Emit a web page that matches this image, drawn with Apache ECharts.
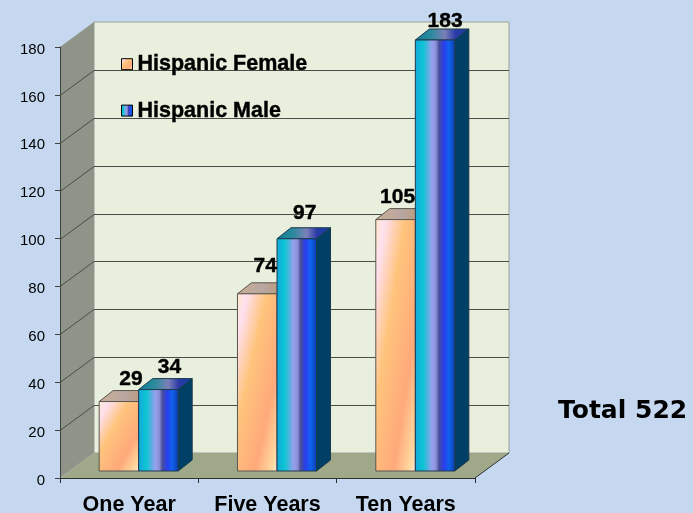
<!DOCTYPE html>
<html>
<head>
<meta charset="utf-8">
<style>
  html, body { margin: 0; padding: 0; background: #c6d8f0; }
  #chart { width: 693px; height: 513px; }
</style>
<script src="https://cdn.jsdelivr.net/npm/echarts@6/dist/echarts.min.js"></script>
</head>
<body>
<div id="chart"></div>
<script>
var categories = ['One Year', 'Five Years', 'Ten Years'];
var femaleValues = [29, 74, 105];
var maleValues = [34, 97, 183];
var yTicks = [0, 20, 40, 60, 80, 100, 120, 140, 160, 180];
var totalLabel = 'Total 522';

var yMax = 180;
var wallDx = 34, wallDy = -25;     // depth of the box
var barDx = 14, barDy = -11;       // depth of one bar
var floorDx = 9.5, floorDy = -7;   // where the bars stand on the floor

// the value labels are not placed evenly in the original
var femaleNudge = [[1, 1], [-3, -5], [-9, 1]];
var maleNudge = [[0, 1], [-3, -3], [-1, 4]];

var femaleStops = [
  { offset: 0, color: '#ffe9c8' },
  { offset: 0.12, color: '#ffe0f0' },
  { offset: 0.37, color: '#ffc47c' },
  { offset: 0.72, color: '#ffa97a' },
  { offset: 0.93, color: '#ffd9a0' },
  { offset: 1, color: '#ffe8e0' }
];
var maleStops = [
  { offset: 0, color: '#12a8dc' },
  { offset: 0.2, color: '#0cc6d2' },
  { offset: 0.42, color: '#98a0ee' },
  { offset: 0.52, color: '#8c90d8' },
  { offset: 0.6, color: '#484e98' },
  { offset: 0.72, color: '#2a3ef0' },
  { offset: 0.85, color: '#0f62ee' },
  { offset: 1, color: '#0a3fb0' }
];
var maleTopStops = [
  { offset: 0, color: '#0e7f9a' },
  { offset: 0.3, color: '#2c8a9c' },
  { offset: 0.55, color: '#7c80b8' },
  { offset: 0.75, color: '#2a3aa8' },
  { offset: 1, color: '#10409c' }
];

// skewed diagonal gradient, stays corner to corner on tall bars
function diagonal(x, y, w, h, stops) {
  var k = 2 * w * h / (w * w + h * h);
  return new echarts.graphic.LinearGradient(x, y, x + h * k, y + w * k, stops, true);
}

function renderFrame(params, api) {
  var cs = params.coordSys;
  var left = cs.x, right = cs.x + cs.width;
  var y0 = api.coord([0, 0])[1];
  var yTop = api.coord([0, yMax])[1];
  var kids = [];
  // back wall
  kids.push({
    type: 'polygon',
    shape: { points: [[left + wallDx, yTop + wallDy], [right + wallDx, yTop + wallDy], [right + wallDx, y0 + wallDy], [left + wallDx, y0 + wallDy]] },
    style: { fill: '#e9efdd', stroke: '#9aa09c', lineWidth: 1 }
  });
  // left wall
  kids.push({
    type: 'polygon',
    shape: { points: [[left, y0], [left + wallDx, y0 + wallDy], [left + wallDx, yTop + wallDy], [left, yTop]] },
    style: { fill: '#8f9488' }
  });
  // floor
  kids.push({
    type: 'polygon',
    shape: { points: [[left, y0], [left + wallDx, y0 + wallDy], [right + wallDx, y0 + wallDy], [right, y0]] },
    style: { fill: '#a0a88a' }
  });
  kids.push({
    type: 'polyline',
    shape: { points: [[right, y0], [right + wallDx, y0 + wallDy]] },
    style: { stroke: '#303030', lineWidth: 1, fill: null }
  });
  yTicks.forEach(function (t) {
    if (t === 0 || t === yMax) return;
    var y = Math.round(api.coord([0, t])[1]) + 0.5;
    kids.push({
      type: 'polyline',
      shape: { points: [[left, y], [left + wallDx, y + wallDy], [right + wallDx, y + wallDy]] },
      style: { stroke: '#4a4d48', lineWidth: 1, fill: null }
    });
  });
  return { type: 'group', children: kids };
}

function renderBar(isMale) {
  return function (params, api) {
    var catIdx = api.value(0);
    var val = api.value(1);
    var center = api.coord([catIdx, 0])[0];
    var band = api.size([1, 0])[0];
    var w = band / 3.5;
    var x = center + floorDx + (isMale ? 0 : -w);
    var yBase = api.coord([catIdx, 0])[1] + floorDy;
    // the 183 bar runs out of the box, so it stops at the axis maximum
    var yTop = api.coord([catIdx, Math.min(val, yMax)])[1] + floorDy;
    var h = yBase - yTop;
    var line = isMale ? '#1c3a4c' : '#5a5650';
    var kids = [];
    var topFill = isMale
      ? new echarts.graphic.LinearGradient(x, 0, x + w + barDx, 0, maleTopStops, true)
      : new echarts.graphic.LinearGradient(x, 0, x + w + barDx, 0, [
          { offset: 0, color: '#c9ae96' },
          { offset: 0.5, color: '#b8a6a0' },
          { offset: 1, color: '#bf9560' }
        ], true);
    kids.push({
      type: 'polygon',
      shape: { points: [[x, yTop], [x + barDx, yTop + barDy], [x + w + barDx, yTop + barDy], [x + w, yTop]] },
      style: { fill: topFill, stroke: line, lineWidth: 1 }
    });
    kids.push({
      type: 'polygon',
      shape: { points: [[x + w, yTop], [x + w + barDx, yTop + barDy], [x + w + barDx, yBase + barDy], [x + w, yBase]] },
      style: { fill: isMale ? '#003f66' : '#a08a70', stroke: line, lineWidth: 1 }
    });
    kids.push({
      type: 'rect',
      shape: { x: x, y: yTop, width: w, height: h },
      style: {
        fill: isMale
          ? new echarts.graphic.LinearGradient(x, 0, x + w, 0, maleStops, true)
          : diagonal(x, yTop, w, h, femaleStops),
        stroke: line,
        lineWidth: 1
      }
    });
    return { type: 'group', children: kids };
  };
}

// labels go in their own series so the male bars do not cover them
function renderLabel(isMale) {
  var nudge = isMale ? maleNudge : femaleNudge;
  return function (params, api) {
    var catIdx = api.value(0);
    var val = api.value(1);
    var center = api.coord([catIdx, 0])[0];
    var w = api.size([1, 0])[0] / 3.5;
    var x = center + floorDx + (isMale ? 0 : -w);
    var yTop = api.coord([catIdx, Math.min(val, yMax)])[1] + floorDy;
    return {
      type: 'text',
      style: {
        text: String(val),
        x: x + w / 2 + 11 + nudge[params.dataIndex][0],
        y: yTop - 23 + nudge[params.dataIndex][1],
        fill: '#000',
        stroke: '#000',
        lineWidth: 0.4,
        align: 'center',
        verticalAlign: 'middle',
        font: 'bold 21px "Liberation Sans", Arial, sans-serif'
      }
    };
  };
}

function pairs(values) {
  return values.map(function (v, i) { return [i, v]; });
}

var chart = echarts.init(document.getElementById('chart'), null, { renderer: 'canvas' });
chart.setOption({
  animation: false,
  backgroundColor: '#c6d8f0',
  textStyle: { fontFamily: '"Liberation Sans", Arial, sans-serif' },
  title: {
    text: totalLabel,
    left: 558,
    top: 399,
    padding: 0,
    textStyle: { fontFamily: '"DejaVu Sans", sans-serif', fontWeight: 'bold', fontSize: 25, color: '#000' }
  },
  grid: { left: 60, right: 218, top: 47, bottom: 35, outerBoundsMode: 'none' },
  legend: {
    orient: 'vertical',
    left: 121,
    top: 53,
    padding: 0,
    itemWidth: 11,
    itemHeight: 11,
    itemGap: 24,
    icon: 'rect',
    textStyle: { fontWeight: 'bold', fontSize: 21.5, color: '#000', textBorderColor: '#000', textBorderWidth: 0.4 },
    data: [
      {
        name: 'Hispanic Female',
        itemStyle: {
          color: new echarts.graphic.LinearGradient(0, 0, 1, 1, femaleStops),
          borderColor: '#000',
          borderWidth: 1
        }
      },
      {
        name: 'Hispanic Male',
        itemStyle: {
          color: new echarts.graphic.LinearGradient(0, 0, 1, 0, maleStops),
          borderColor: '#000',
          borderWidth: 1
        }
      }
    ]
  },
  xAxis: {
    type: 'category',
    data: categories,
    z: 5,
    axisLine: { lineStyle: { color: '#303030', width: 1 } },
    axisTick: { show: true, length: 5, lineStyle: { color: '#303030' } },
    axisLabel: { fontWeight: 'bold', fontSize: 21.5, color: '#000', margin: 16 }
  },
  yAxis: {
    type: 'value',
    min: 0,
    max: yMax,
    interval: 20,
    z: 5,
    splitLine: { show: false },
    axisLine: { show: true, lineStyle: { color: '#404040', width: 1 } },
    axisTick: { show: true, length: 5, lineStyle: { color: '#404040' } },
    axisLabel: { fontSize: 15, color: '#000', margin: 15, verticalAlign: 'top', lineHeight: 5 }
  },
  series: [
    {
      type: 'custom',
      name: 'frame',
      silent: true,
      z: 1,
      renderItem: renderFrame,
      data: [[0, 0]],
      encode: { x: 0, y: 1 }
    },
    {
      type: 'custom',
      name: 'Hispanic Female',
      z: 2,
      clip: false,
      renderItem: renderBar(false),
      data: pairs(femaleValues),
      encode: { x: 0, y: 1 }
    },
    {
      type: 'custom',
      name: 'Hispanic Male',
      z: 3,
      clip: false,
      renderItem: renderBar(true),
      data: pairs(maleValues),
      encode: { x: 0, y: 1 }
    },
    {
      type: 'custom',
      name: 'femaleLabels',
      silent: true,
      z: 4,
      clip: false,
      renderItem: renderLabel(false),
      data: pairs(femaleValues),
      encode: { x: 0, y: 1 }
    },
    {
      type: 'custom',
      name: 'maleLabels',
      silent: true,
      z: 4,
      clip: false,
      renderItem: renderLabel(true),
      data: pairs(maleValues),
      encode: { x: 0, y: 1 }
    }
  ]
});
</script>
</body>
</html>
